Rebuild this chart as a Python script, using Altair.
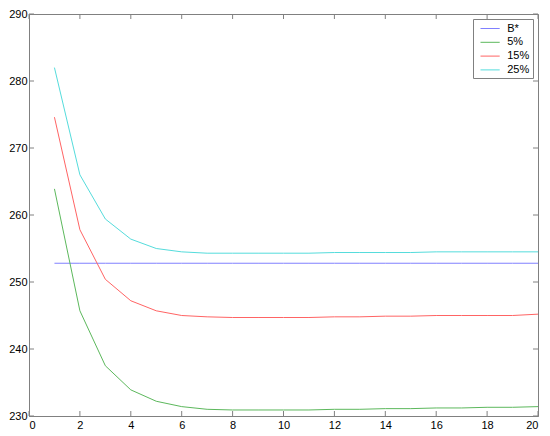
import altair as alt
import pandas as pd

x_vals = list(range(1, 21))
b_star = [252.8] * 20
p5 = [263.9, 245.7, 237.5, 233.9, 232.2, 231.4, 231.0, 230.9, 230.9, 230.9,
      230.9, 231.0, 231.0, 231.1, 231.1, 231.2, 231.2, 231.3, 231.3, 231.4]
p15 = [274.6, 257.8, 250.4, 247.2, 245.7, 245.0, 244.8, 244.7, 244.7, 244.7,
       244.7, 244.8, 244.8, 244.9, 244.9, 245.0, 245.0, 245.0, 245.0, 245.2]
p25 = [282.0, 266.0, 259.4, 256.4, 255.0, 254.5, 254.3, 254.3, 254.3, 254.3,
       254.3, 254.4, 254.4, 254.4, 254.4, 254.5, 254.5, 254.5, 254.5, 254.5]

series_names = ["B*", "5%", "15%", "25%"]
series_values = [b_star, p5, p15, p25]
colors = ["#8080ff", "#5cb85c", "#ff6464", "#55dcdc"]
x_ticks = list(range(0, 21, 2))
y_ticks = list(range(230, 291, 10))

rows = []
for name, vals in zip(series_names, series_values):
    for xv, yv in zip(x_vals, vals):
        rows.append({"x": xv, "y": yv, "series": name})
df = pd.DataFrame(rows)

W, H = 509, 402
GRAY = "#808080"
TL = 5

xscale = alt.Scale(domain=[0, 20], nice=False, zero=False)
yscale = alt.Scale(domain=[230, 290], nice=False, zero=False)
xaxis = alt.Axis(values=x_ticks, ticks=False, grid=False, title=None,
                 labelPadding=3, format="d")
yaxis = alt.Axis(values=y_ticks, ticks=False, grid=False, title=None,
                 labelPadding=2, format="d")

lines = alt.Chart(df).mark_line(strokeWidth=1).encode(
    x=alt.X("x:Q", scale=xscale, axis=xaxis),
    y=alt.Y("y:Q", scale=yscale, axis=yaxis),
    color=alt.Color("series:N",
                    scale=alt.Scale(domain=series_names, range=colors),
                    sort=series_names,
                    legend=alt.Legend(title=None, orient="top-right", offset=5,
                                      fillColor="white", strokeColor=GRAY,
                                      padding=3, symbolType="M-1.6,0H1.6",
                                      symbolSize=144, symbolStrokeWidth=1,
                                      symbolOffset=7.6,
                                      labelFontSize=11, labelFont="Liberation Sans",
                                      rowPadding=1.8, labelOffset=10.6,
                                      labelExpr="datum.label + '\u2003'")),
)

xt = pd.DataFrame({"t": x_ticks})
yt = pd.DataFrame({"t": y_ticks})

xb = alt.Chart(xt).mark_rule(color=GRAY, strokeWidth=1).encode(
    x=alt.X("t:Q", scale=xscale, axis=xaxis), y=alt.value(H), y2=alt.value(H - TL))
xtp = alt.Chart(xt).mark_rule(color=GRAY, strokeWidth=1).encode(
    x=alt.X("t:Q", scale=xscale, axis=xaxis), y=alt.value(0), y2=alt.value(TL))
yl = alt.Chart(yt).mark_rule(color=GRAY, strokeWidth=1).encode(
    y=alt.Y("t:Q", scale=yscale, axis=yaxis), x=alt.value(0), x2=alt.value(TL))
yr = alt.Chart(yt).mark_rule(color=GRAY, strokeWidth=1).encode(
    y=alt.Y("t:Q", scale=yscale, axis=yaxis), x=alt.value(W - TL), x2=alt.value(W))

chart = alt.layer(lines, xb, xtp, yl, yr).properties(
    width=W, height=H,
    autosize=alt.AutoSizeParams(type="none"),
    padding={"left": 21, "top": 6, "right": 4, "bottom": 20},
).configure_view(stroke=GRAY, strokeWidth=1).configure_axis(
    domainColor=GRAY, labelColor="black", labelFont="Liberation Sans",
    labelFontSize=11,
)

chart.save("out.html", embed_options={"renderer": "svg", "actions": False})
